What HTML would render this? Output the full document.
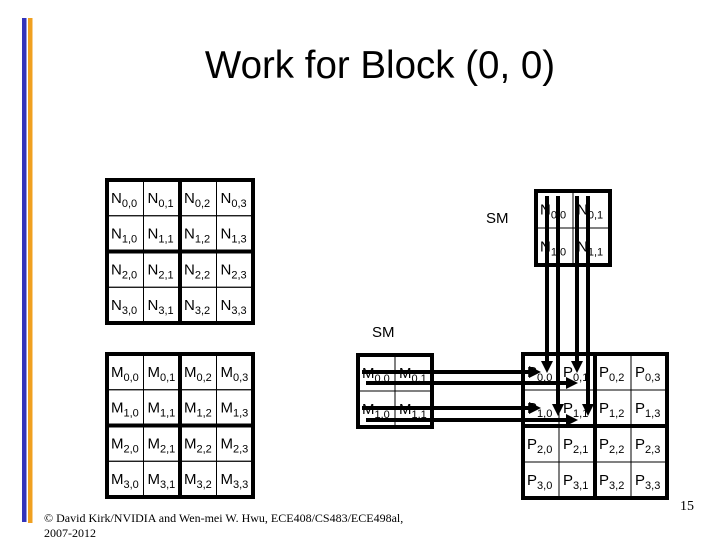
<!DOCTYPE html>
<html><head><meta charset="utf-8"><style>
html,body{margin:0;padding:0;background:#fff;}
svg{display:block;font-family:"Liberation Sans",Arial,sans-serif;}
</style></head><body>
<svg id="s" width="720" height="540" viewBox="0 0 720 540" xmlns="http://www.w3.org/2000/svg">
<rect x="22" y="18" width="4.5" height="504" fill="#3333bb"/>
<rect x="28" y="18" width="4.5" height="505" fill="#f0a020"/>
<text x="380" y="78" font-size="38.5" text-anchor="middle">Work for Block (0, 0)</text>
<text x="486" y="223" font-size="15">SM</text>
<text x="372" y="337" font-size="15">SM</text>
<text x="687" y="510" font-size="14" font-family="Liberation Serif,serif" text-anchor="middle">15</text>
<text x="44" y="522" font-size="12" font-family="Liberation Serif,serif">© David Kirk/NVIDIA and Wen-mei W. Hwu, ECE408/CS483/ECE498al,</text>
<text x="44" y="537" font-size="12" font-family="Liberation Serif,serif">2007-2012</text>
<g id="g"></g>
</svg>
<script>
var g=document.getElementById('g'),h='';
function grid(L,x0,y0,x1,y1,n,thickMid){
  var cw=(x1-x0)/n,ch=(y1-y0)/n;
  for(var r=0;r<n;r++)for(var c=0;c<n;c++){
    var x=x0+c*cw,y=y0+r*ch;
    h+='<rect x="'+x+'" y="'+y+'" width="'+cw+'" height="'+ch+'" fill="none" stroke="#000" stroke-width="1"/>';
    h+='<text x="'+(x+4)+'" y="'+(y+ch/2+5)+'" font-size="15">'+L+'<tspan dy="4" font-size="11">'+r+','+c+'</tspan></text>';
  }
  if(thickMid){
    h+='<line x1="'+(x0+x1)/2+'" y1="'+y0+'" x2="'+(x0+x1)/2+'" y2="'+y1+'" stroke="#000" stroke-width="4"/>';
    h+='<line x1="'+x0+'" y1="'+(y0+y1)/2+'" x2="'+x1+'" y2="'+(y0+y1)/2+'" stroke="#000" stroke-width="4"/>';
  }
  h+='<rect x="'+x0+'" y="'+y0+'" width="'+(x1-x0)+'" height="'+(y1-y0)+'" fill="none" stroke="#000" stroke-width="4"/>';
}
grid('N',107,180,253,323,4,true);
grid('M',107,354,253,497,4,true);
grid('P',523,354,667,498,4,true);
grid('N',536,191,610,265,2,false);
grid('M',358,355,432,427,2,false);
function vline(x,y0,y1){h+='<line x1="'+x+'" y1="'+y0+'" x2="'+x+'" y2="'+(y1-11)+'" stroke="#000" stroke-width="4"/><polygon points="'+(x-6)+','+(y1-12)+' '+(x+6)+','+(y1-12)+' '+x+','+y1+'"/>';}
function hline(y,x0,x1){h+='<line x1="'+x0+'" y1="'+y+'" x2="'+(x1-11)+'" y2="'+y+'" stroke="#000" stroke-width="4"/><polygon points="'+(x1-12)+','+(y-6)+' '+(x1-12)+','+(y+6)+' '+x1+','+y+'"/>';}
vline(547,196,373);vline(558,196,416);vline(577,196,373);vline(588,196,416);
hline(372,362,541);hline(383,366,578);hline(408,362,541);hline(420,366,578);
g.innerHTML=h;
</script>
</body></html>
